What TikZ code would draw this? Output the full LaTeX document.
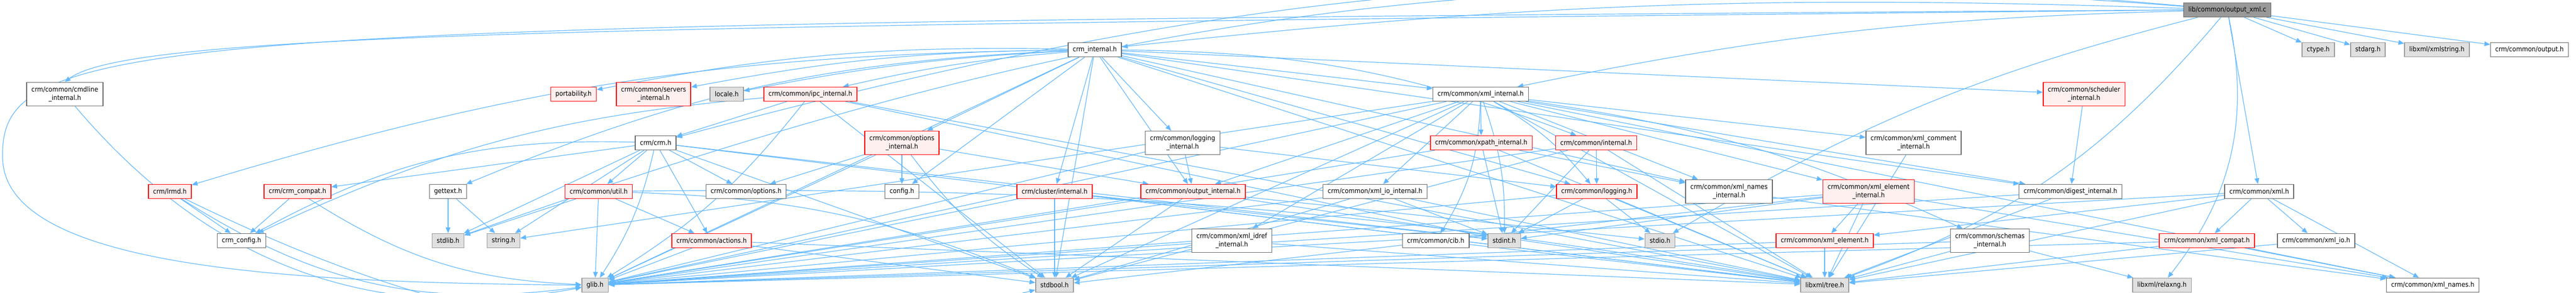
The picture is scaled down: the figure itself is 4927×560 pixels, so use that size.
\documentclass[tikz,border=0pt]{standalone}
\usepackage{fontspec}
\setmainfont{DejaVu Sans Condensed}
\usetikzlibrary{arrows.meta,backgrounds}

\definecolor{edgeblue}{HTML}{63B8FF}
\definecolor{boxgray}{HTML}{666666}
\definecolor{sysfill}{HTML}{E0E0E0}
\definecolor{sysdraw}{HTML}{999999}
\definecolor{redfill}{HTML}{FFF0F0}

% one unit of the picture is one pixel of the reference, 0.1pt
\tikzset{
	hdr/.style={draw=boxgray, fill=white, line width=0.15pt, inner xsep=0.9pt, inner ysep=0.2pt,
		minimum height=2.7pt, font=\fontsize{1.3}{1.6}\selectfont, align=center},
	redhdr/.style={hdr, draw=red, fill=redfill},
	syshdr/.style={hdr, draw=sysdraw, fill=sysfill},
	roothdr/.style={hdr, draw=boxgray, fill=sysdraw},
	twoline/.style={minimum height=4.5pt},
	dep/.style={draw=edgeblue, line width=0.12pt, -{Triangle[length=1.1pt,width=0.9pt]}},
}

\begin{document}
\begin{tikzpicture}[x=0.1pt,y=-0.1pt]
	\useasboundingbox (0,0) rectangle (4927,560);

	% top rows
	\node[roothdr] (out) at (4260,19) {lib/common/output\_xml.c};
	\node[hdr] (crmint) at (2094,95) {crm\_internal.h};
	\node[syshdr] (ctype) at (4434,95) {ctype.h};
	\node[syshdr] (stdarg) at (4529,95) {stdarg.h};
	\node[syshdr] (xmlstr) at (4661,95) {libxml/xmlstring.h};
	\node[hdr] (outh) at (4838,95) {crm/common/output.h};

	\node[hdr,twoline] (cmdline) at (124,180) {crm/common/cmdline\\\_internal.h};
	\node[redhdr] (port) at (1097,180) {portability.h};
	\node[redhdr,twoline] (servers) at (1250,180) {crm/common/servers\\\_internal.h};
	\node[syshdr] (locale) at (1390,180) {locale.h};
	\node[redhdr] (ipc) at (1550,180) {crm/common/ipc\_internal.h};
	\node[hdr] (xmlint) at (2832,180) {crm/common/xml\_internal.h};
	\node[redhdr,twoline] (sched) at (3986,180) {crm/common/scheduler\\\_internal.h};

	\node[hdr] (crm) at (1254,273) {crm/crm.h};
	\node[redhdr,twoline] (optint) at (1725,273) {crm/common/options\\\_internal.h};
	\node[hdr,twoline] (logint) at (2262,273) {crm/common/logging\\\_internal.h};
	\node[redhdr] (xpath) at (2833,273) {crm/common/xpath\_internal.h};
	\node[redhdr] (cint) at (3053,273) {crm/common/internal.h};
	\node[hdr,twoline] (xmlcom) at (3660,273) {crm/common/xml\_comment\\\_internal.h};

	% middle row
	\node[redhdr] (lrmd) at (325,366) {crm/lrmd.h};
	\node[redhdr] (compat) at (569,366) {crm/crm\_compat.h};
	\node[hdr] (gettext) at (857,366) {gettext.h};
	\node[redhdr] (util) at (1145,366) {crm/common/util.h};
	\node[hdr] (options) at (1427,366) {crm/common/options.h};
	\node[hdr] (config) at (1725,366) {config.h};
	\node[redhdr] (cluster) at (2017,366) {crm/cluster/internal.h};
	\node[redhdr] (outint) at (2282,366) {crm/common/output\_internal.h};
	\node[hdr] (xmlioint) at (2630,366) {crm/common/xml\_io\_internal.h};
	\node[redhdr] (logging) at (3054,366) {crm/common/logging.h};
	\node[hdr,twoline] (namesint) at (3307,366) {crm/common/xml\_names\\\_internal.h};
	\node[redhdr,twoline] (elemint) at (3574,366) {crm/common/xml\_element\\\_internal.h};
	\node[hdr] (digest) at (3960,366) {crm/common/digest\_internal.h};
	\node[hdr] (xmlh) at (4321,366) {crm/common/xml.h};

	% lower rows
	\node[hdr] (crmconfig) at (462,460) {crm\_config.h};
	\node[syshdr] (stdlib) at (857,460) {stdlib.h};
	\node[syshdr] (string) at (963,460) {string.h};
	\node[redhdr] (actions) at (1361,460) {crm/common/actions.h};
	\node[hdr,twoline] (idref) at (2356,460) {crm/common/xml\_idref\\\_internal.h};
	\node[hdr] (cib) at (2746,460) {crm/common/cib.h};
	\node[syshdr] (stdint) at (2877,460) {stdint.h};
	\node[syshdr] (stdio) at (3175,460) {stdio.h};
	\node[redhdr] (elem) at (3490,460) {crm/common/xml\_element.h};
	\node[hdr,twoline] (schemas) at (3806,460) {crm/common/schemas\\\_internal.h};
	\node[redhdr] (xmlcompat) at (4221,460) {crm/common/xml\_compat.h};
	\node[hdr] (xmlio) at (4430,460) {crm/common/xml\_io.h};

	\node[syshdr] (glib) at (1138,545) {glib.h};
	\node[syshdr] (stdbool) at (2017,545) {stdbool.h};
	\node[syshdr] (tree) at (3490,545) {libxml/tree.h};
	\node[syshdr] (relaxng) at (4135,545) {libxml/relaxng.h};
	\node[hdr] (names) at (4653,545) {crm/common/xml\_names.h};

	\begin{pgfonlayer}{background}
	% long ones round the left side
	\draw[dep] (out.west) .. controls (300,45) and (0,60) .. (5,300) .. controls (5,520) and (600,540) .. (glib.west);
	\draw[dep] (out.west) .. controls (1200,50) and (250,60) .. (cmdline.north);

	\foreach \a/\b/\c in {out/crmint/4, out/ctype/0, out/stdarg/0, out/xmlstr/0, out/outh/0,
		out/xmlh/0, out/xmlint/5, out/crm/10, out/stdlib/12, out/stdio/8, out/tree/-15,
		out/relaxng/-25, cmdline/glib/30,
		crmint/config/0, crmint/port/6, crmint/stdbool/0, crmint/tree/0, crmint/lrmd/8,
		crmint/logging/0, crmint/logint/0, crmint/ipc/4, crmint/optint/0, crmint/outint/0,
		crmint/xmlint/0, crmint/cint/-10, crmint/locale/4, crmint/gettext/10, crmint/servers/5,
		crmint/sched/0, crmint/cluster/0, crmint/digest/0, crmint/namesint/0, crmint/glib/0,
		crm/compat/0, crm/crmconfig/15, crm/stdlib/0, crm/string/0, crm/util/0, crm/options/0,
		crm/actions/0, crm/glib/-10, crm/stdint/0, crm/stdbool/0, crm/tree/0,
		lrmd/crmconfig/0, lrmd/glib/20, lrmd/stdbool/20, compat/crmconfig/0, compat/glib/15,
		gettext/stdlib/0, gettext/string/0,
		util/stdlib/0, util/glib/0, util/actions/0, util/stdbool/-10, util/tree/-5,
		actions/glib/0, actions/stdbool/0, actions/tree/0,
		ipc/crm/0, ipc/crmconfig/10, ipc/glib/-10, ipc/stdint/0, ipc/stdbool/0, ipc/tree/0,
		optint/config/0, optint/options/0, optint/glib/0, optint/stdbool/10, optint/outint/0,
		cluster/stdbool/0, cluster/glib/0, cluster/stdint/0, cluster/tree/0,
		logint/outint/0, logint/glib/0, logint/logging/0,
		outint/glib/0, outint/stdbool/0, outint/stdio/0, outint/tree/0,
		idref/glib/0, idref/tree/0,
		xmlint/xpath/0, xmlint/xmlioint/0, xmlint/logging/-10, xmlint/cib/-15, xmlint/stdint/-10,
		xmlint/namesint/0, xmlint/xmlcom/0, xmlint/elemint/0, xmlint/digest/0, xmlint/schemas/-8,
		xmlint/idref/0, xmlint/outint/0, xmlint/glib/0, xmlint/stdbool/0, xmlint/tree/0,
		xmlint/names/0, xmlint/string/0,
		xpath/namesint/0, xpath/stdint/0, xpath/glib/0, xpath/tree/0,
		cint/logging/0, cint/stdint/0, cint/glib/0, cint/stdbool/0, cint/tree/0,
		xmlioint/glib/0, xmlioint/stdint/0, xmlioint/stdbool/0, xmlioint/tree/0,
		logging/stdint/0, logging/stdio/0, logging/glib/0, logging/tree/0,
		cib/tree/0, namesint/names/0, xmlcom/tree/0,
		elemint/elem/0, elemint/tree/0, elemint/glib/0, elemint/stdint/0, elemint/stdbool/0,
		elemint/names/0, digest/glib/0, digest/tree/0, elem/glib/0, elem/tree/0,
		schemas/relaxng/0, schemas/tree/0, schemas/glib/0, sched/digest/0,
		xmlh/xmlcompat/0, xmlh/xmlio/0, xmlh/names/0, xmlh/elem/0, xmlh/glib/0, xmlh/tree/0,
		xmlcompat/names/0, xmlcompat/glib/0, xmlcompat/tree/0, xmlio/tree/0}
	\draw[dep] (\a) to[bend right=\c] (\b);
	\end{pgfonlayer}
\end{tikzpicture}
\end{document}
